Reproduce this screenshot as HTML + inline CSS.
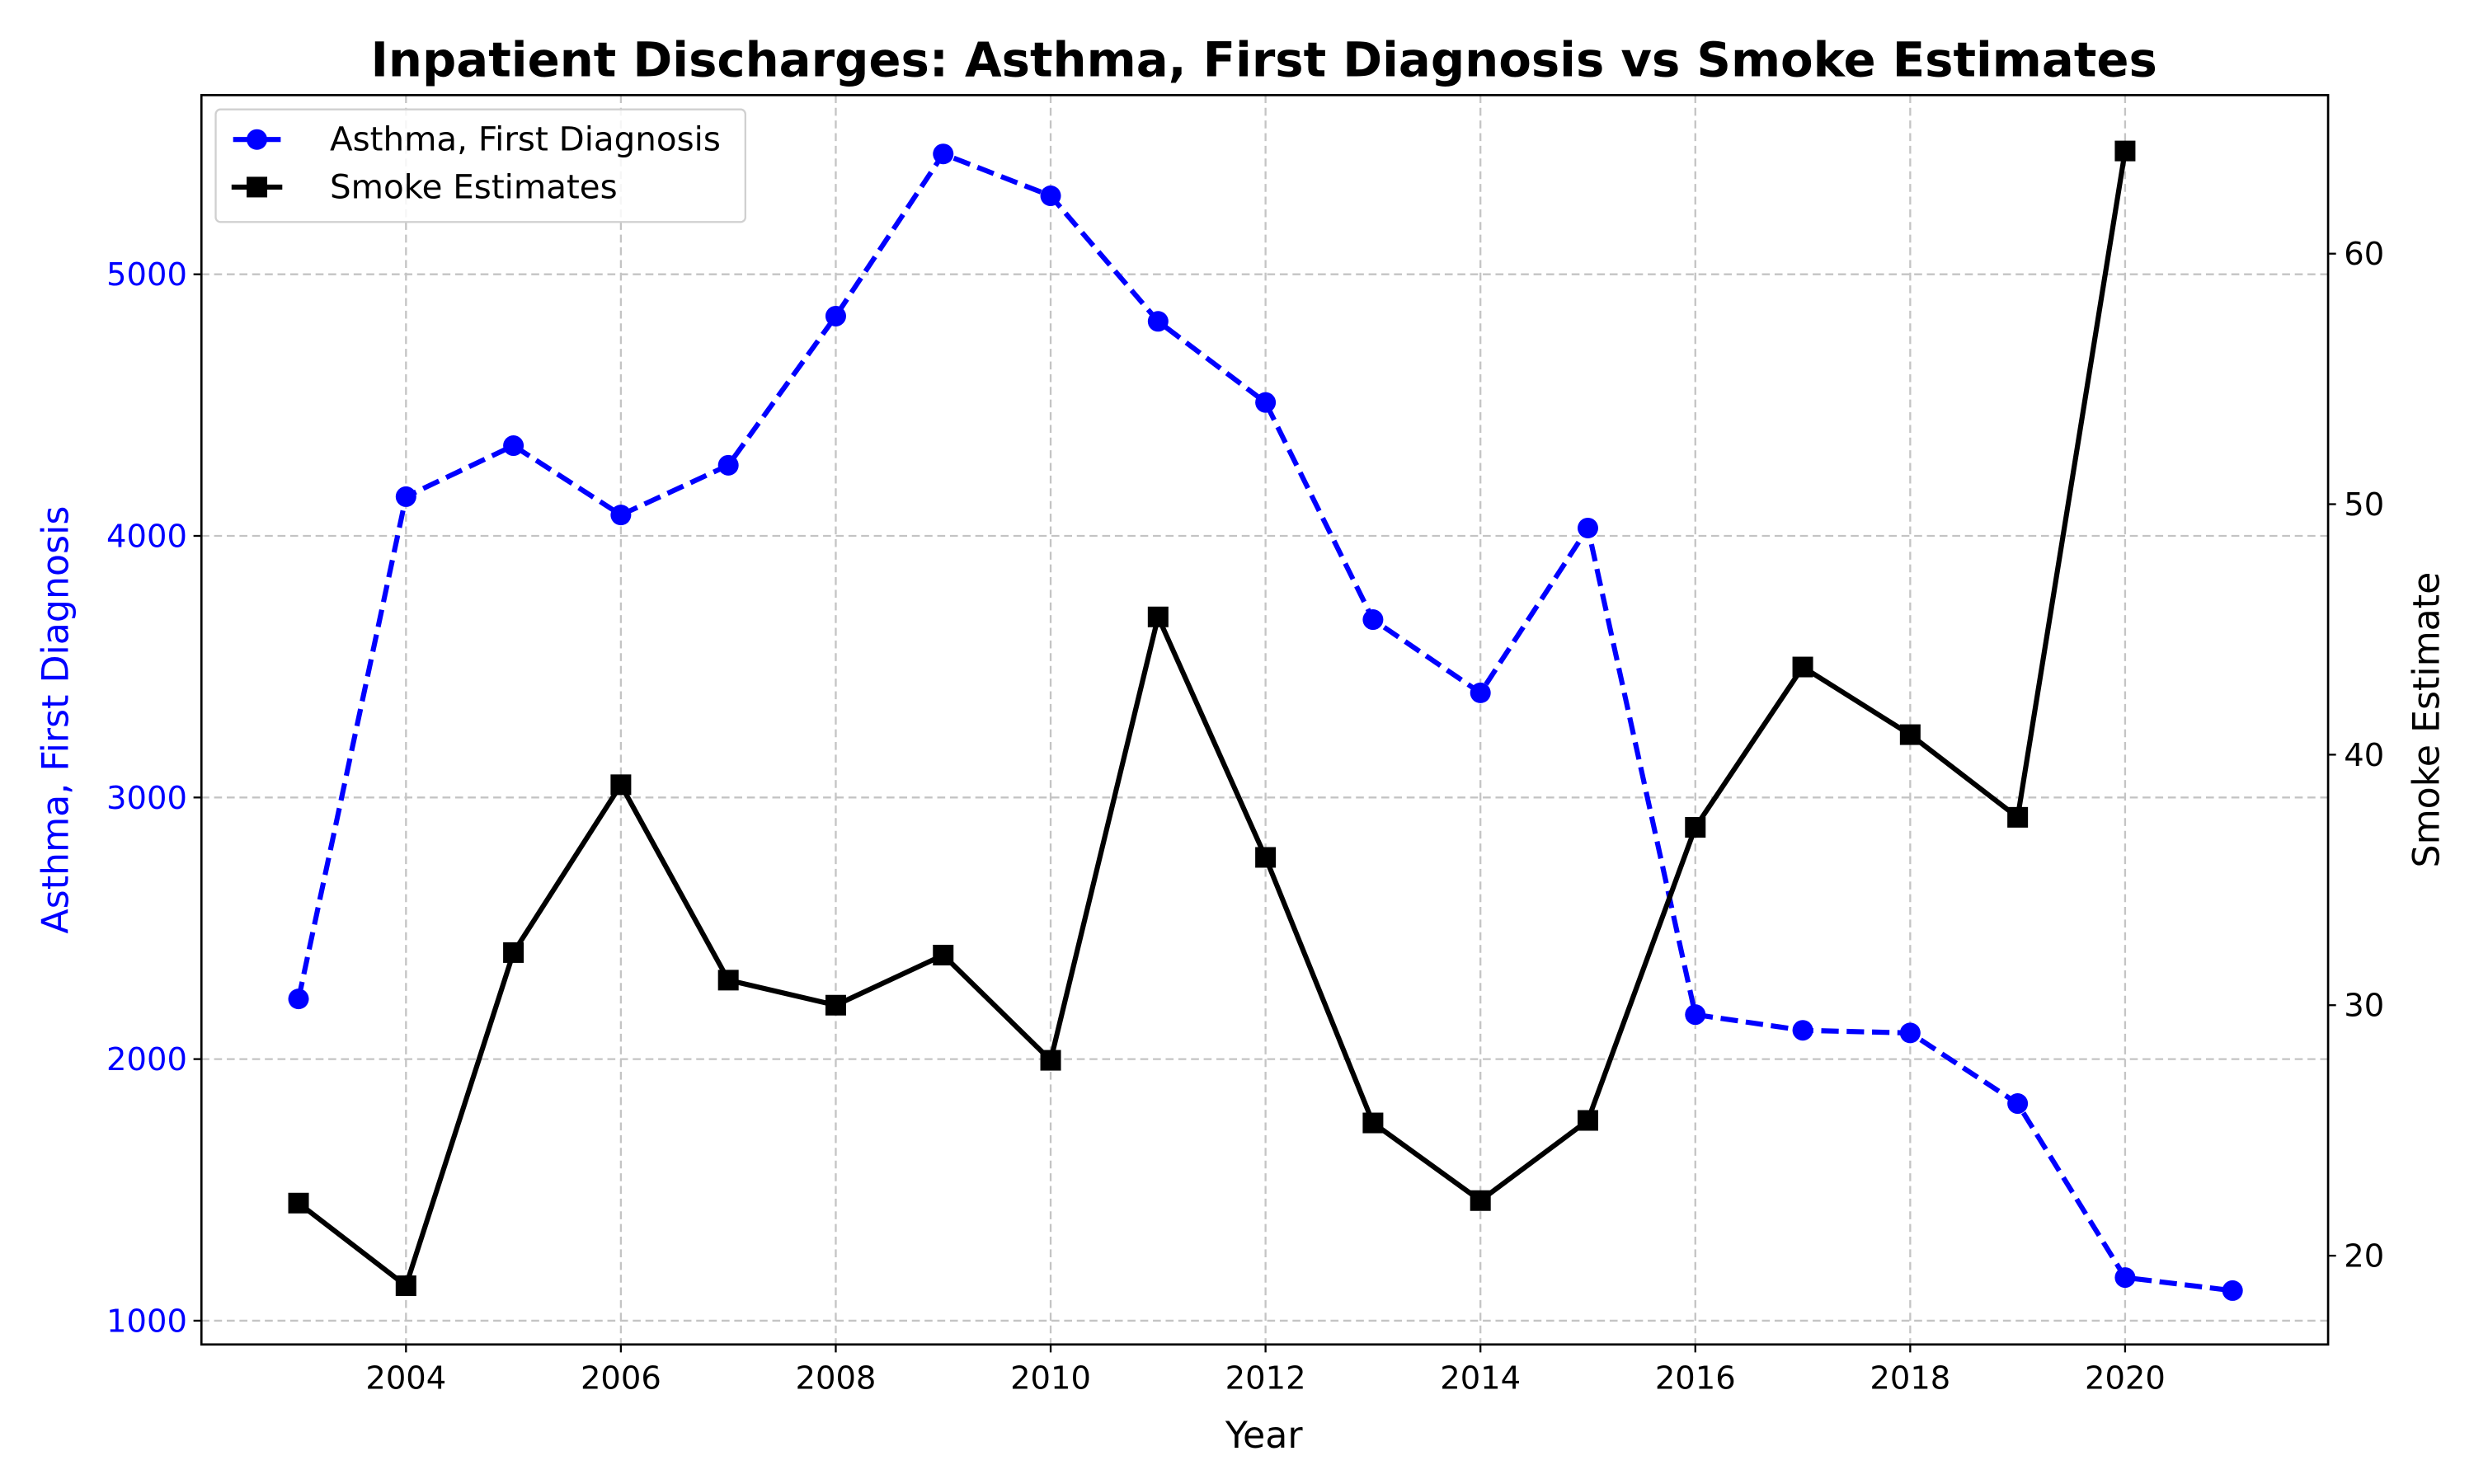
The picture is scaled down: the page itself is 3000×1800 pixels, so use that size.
<!DOCTYPE html>
<html><head><meta charset="utf-8"><style>
html,body{margin:0;padding:0;background:#fff;}
svg{display:block;font-family:"DejaVu Sans","Liberation Sans",sans-serif;}
</style></head><body>
<svg id="chart" width="3000" height="1800" viewBox="0 0 1560 936" xmlns="http://www.w3.org/2000/svg">
<rect width="1560" height="936" fill="#fff"/>
<g id="grid"></g>
<g id="series"></g>
<rect x="127" y="60" width="1341" height="788" fill="none" stroke="#000" stroke-width="1.4"/>
<g id="axes"></g>
<text x="797" y="48" text-anchor="middle" font-size="30" font-weight="bold">Inpatient Discharges: Asthma, First Diagnosis vs Smoke Estimates</text>
<text x="797" y="913" text-anchor="middle" font-size="23">Year</text>
<text x="0" y="0" transform="translate(43,454) rotate(-90)" text-anchor="middle" font-size="23" fill="#0000ff">Asthma, First Diagnosis</text>
<text x="0" y="0" transform="translate(1538,454) rotate(-90)" text-anchor="middle" font-size="23">Smoke Estimate</text>
<g>
<rect x="136" y="69" width="334" height="71" rx="3" fill="#fff" fill-opacity="0.85" stroke="#d0d0d0" stroke-width="1.2"/>
<g>
<line x1="147" y1="88" x2="177" y2="88" stroke="#0000ff" stroke-width="3.2"/>
<circle cx="162" cy="88" r="6.5" fill="#0000ff"/>
<text x="208" y="95" font-size="21">Asthma, First Diagnosis</text>
</g>
<g>
<line x1="146" y1="118" x2="178" y2="118" stroke="#000" stroke-width="3.2"/>
<rect x="155.5" y="111.5" width="13" height="13" fill="#000"/>
<text x="208" y="125" font-size="21">Smoke Estimates</text>
</g>
</g>
</svg>
<script>
const years = [2003,2004,2005,2006,2007,2008,2009,2010,2011,2012,2013,2014,2015,2016,2017,2018,2019,2020,2021];
const asthmaValues = [2230,4150,4345,4080,4270,4840,5460,5300,4820,4510,3680,3400,4030,2170,2110,2100,1830,1165,1115];
const smokeYears = [2003,2004,2005,2006,2007,2008,2009,2010,2011,2012,2013,2014,2015,2016,2017,2018,2019,2020];
const smokeValues = [22.1,18.8,32.1,38.8,31.0,30.0,32.0,27.8,45.5,35.9,25.3,22.2,25.4,37.1,43.5,40.8,37.5,64.1];
const xTicks = [2004,2006,2008,2010,2012,2014,2016,2018,2020];
const leftTicks = [1000,2000,3000,4000,5000];
const rightTicks = [20,30,40,50,60];

const L=127,R=1468,T=60,B=848;
const xs = y => 256 + (y-2004)*67.75;
const yl = v => 833 - (v-1000)*0.165;
const yr = v => 792 - (v-20)*15.8;
const NS="http://www.w3.org/2000/svg";
function mk(tag, attrs, parent){const e=document.createElementNS(NS,tag);for(const k in attrs)e.setAttribute(k,attrs[k]);parent.appendChild(e);return e;}
const grid=document.getElementById('grid'), axes=document.getElementById('axes'), series=document.getElementById('series');

xTicks.forEach(t=>{
  const x=xs(t);
  const g=mk('line',{x1:x,x2:x,y1:T,y2:B,stroke:'#c4c4c4','stroke-width':1.2,'stroke-dasharray':'5,3'},grid);
  
  
  const tk=mk('line',{x1:x,x2:x,y1:B,y2:B+5,stroke:'#000','stroke-width':1.2},axes);
  
  
  const lb=mk('text',{x:x,y:B+28,'text-anchor':'middle','font-size':20},axes);
  lb.textContent=t;
  
  
});
leftTicks.forEach(t=>{
  const y=yl(t);
  const g=mk('line',{x1:L,x2:R,y1:y,y2:y,stroke:'#c4c4c4','stroke-width':1.2,'stroke-dasharray':'5,3'},grid);
  
  
  const tk=mk('line',{x1:L-5,x2:L,y1:y,y2:y,stroke:'#000','stroke-width':1.2},axes);
  
  
  const lb=mk('text',{x:L-9,y:y+7,'text-anchor':'end','font-size':20,fill:'#0000ff'},axes);
  lb.textContent=t;
  
  
});
rightTicks.forEach(t=>{
  const y=yr(t);
  const tk=mk('line',{x1:R,x2:R+5,y1:y,y2:y,stroke:'#000','stroke-width':1.2},axes);
  
  
  const lb=mk('text',{x:R+10,y:y+7,'text-anchor':'start','font-size':20},axes);
  lb.textContent=t;
  
  
});

const ap=years.map((y,i)=>xs(y)+','+yl(asthmaValues[i])).join(' ');
const al=mk('polyline',{points:ap,fill:'none',stroke:'#0000ff','stroke-width':3.2,'stroke-dasharray':'11,5'},series);


years.forEach((y,i)=>{
  const c=mk('circle',{cx:xs(y),cy:yl(asthmaValues[i]),r:6.5,fill:'#0000ff'},series);
  
  
});
const sp=smokeYears.map((y,i)=>xs(y)+','+yr(smokeValues[i])).join(' ');
const sl=mk('polyline',{points:sp,fill:'none',stroke:'#000','stroke-width':3.2,'stroke-linejoin':'miter'},series);


smokeYears.forEach((y,i)=>{
  const r=mk('rect',{x:xs(y)-6.5,y:yr(smokeValues[i])-6.5,width:13,height:13,fill:'#000'},series);
  
  
});
</script>
</body></html>
